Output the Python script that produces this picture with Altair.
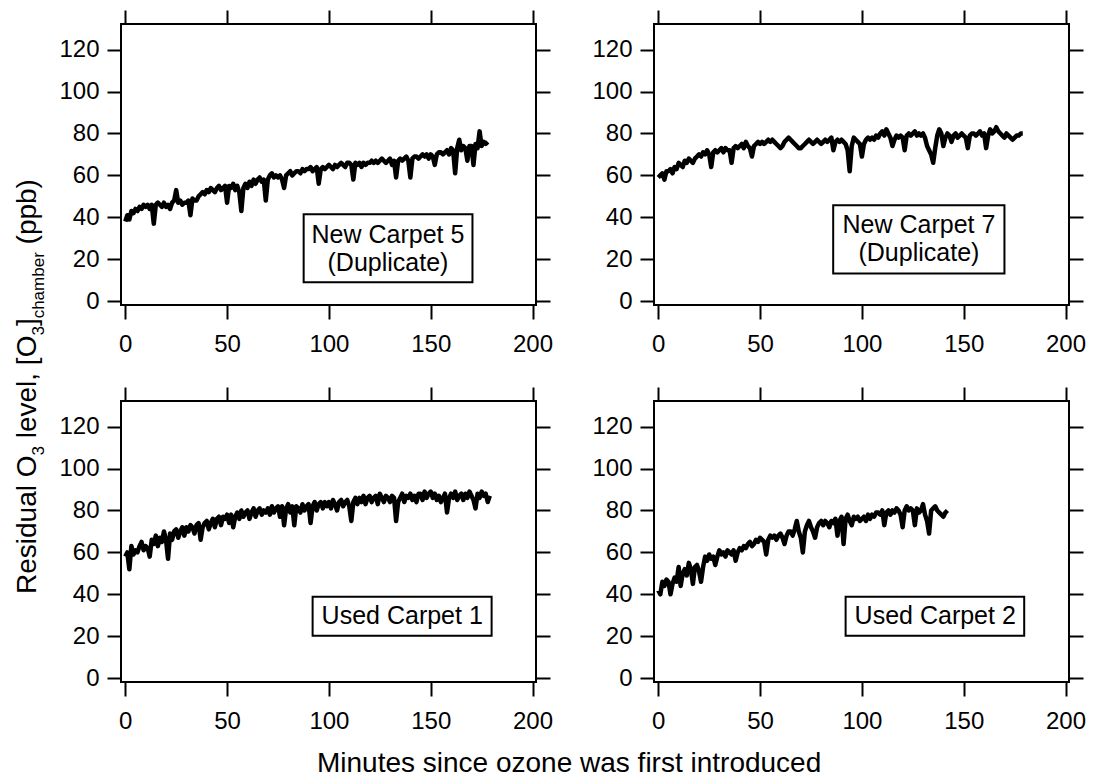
import altair as alt
import pandas as pd

FONT = "Liberation Sans"

# ---------------- data (ppb, one reading per minute) ----------------
new_carpet_5 = [
    38, 41, 39, 43, 42, 44, 43, 45, 44, 46,
    45, 46, 44, 46, 37, 46, 47, 46, 45, 47,
    45, 46, 44, 47, 48, 53, 47, 48, 46, 47,
    47, 48, 41, 49, 48, 48, 50, 51, 52, 51,
    53, 52, 54, 53, 52, 54, 55, 53, 54, 55,
    47, 55, 54, 56, 53, 55, 52, 43, 54, 56,
    54, 57, 55, 58, 56, 58, 59, 57, 58, 48,
    58, 60, 61, 59, 60, 59, 60, 58, 54, 60,
    61, 62, 60, 61, 62, 62, 61, 63, 62, 63,
    63, 64, 62, 63, 64, 56, 63, 64, 63, 64,
    65, 64, 63, 65, 64, 65, 66, 65, 64, 66,
    66, 65, 58, 66, 65, 66, 64, 66, 65, 66,
    66, 67, 66, 67, 66, 67, 68, 67, 66, 67,
    68, 65, 67, 59, 67, 68, 67, 68, 69, 67,
    59, 68, 69, 69, 68, 69, 70, 69, 70, 68,
    70, 69, 65, 70, 71, 71, 70, 71, 72, 70,
    73, 72, 61, 73, 77, 72, 74, 73, 67, 74,
    74, 65, 75, 73, 81, 74, 76, 75, 76,
]
new_carpet_7 = [
    59, 60, 61, 58, 62, 62, 63, 61, 64, 63,
    66, 65, 64, 67, 66, 68, 67, 66, 68, 69,
    70, 69, 71, 70, 72, 70, 64, 71, 72, 71,
    72, 73, 71, 73, 72, 72, 66, 73, 74, 73,
    74, 75, 73, 76, 74, 73, 69, 74, 75, 76,
    75, 76, 75, 76, 77, 76, 77, 76, 75, 74,
    73, 74, 76, 77, 78, 77, 76, 75, 74, 73,
    73, 74, 75, 76, 77, 76, 75, 76, 77, 76,
    75, 76, 77, 76, 77, 78, 72, 76, 77, 76,
    77, 76, 75, 72, 62, 74, 78, 77, 76, 75,
    69, 75, 77, 78, 77, 78, 77, 79, 78, 80,
    81, 79, 82, 80, 78, 74, 77, 79, 78, 79,
    78, 72, 79, 80, 79, 80, 81, 79, 80, 79,
    80, 78, 74, 72, 70, 66, 73, 79, 82, 80,
    74, 78, 80, 79, 76, 79, 80, 78, 79, 80,
    79, 78, 73, 79, 80, 80, 79, 80, 81, 79,
    80, 73, 79, 82, 80, 81, 83, 81, 80, 79,
    78, 80, 79, 78, 77, 78, 79, 79, 80, 80,
]
used_carpet_1 = [
    58, 60, 52, 63, 59, 61, 60, 63, 65, 61,
    63, 62, 58, 66, 64, 68, 63, 67, 65, 70,
    66, 57, 69, 66, 70, 71, 67, 70, 72, 68,
    72, 70, 73, 72, 69, 73, 74, 66, 72, 74,
    75, 71, 74, 76, 72, 76, 77, 73, 77, 76,
    78, 74, 78, 72, 77, 79, 76, 80, 77, 79,
    80, 76, 79, 81, 77, 80, 81, 78, 80, 79,
    81, 78, 82, 79, 81, 82, 77, 82, 73, 81,
    83, 79, 82, 73, 82, 81, 79, 83, 80, 82,
    83, 74, 82, 84, 80, 83, 84, 81, 84, 82,
    84, 81, 85, 83, 80, 84, 85, 82, 84, 85,
    82, 75, 84, 86, 83, 86, 84, 87, 83, 86,
    87, 84, 86, 87, 83, 88, 86, 84, 87, 86,
    84, 87, 86, 75, 84, 86, 88, 84, 87, 86,
    88, 85, 87, 84, 88, 88, 85, 89, 86, 88,
    89, 86, 88, 85, 87, 84, 86, 88, 79, 86,
    88, 86, 89, 85, 87, 88, 85, 88, 86, 89,
    87, 85, 81, 88, 86, 89, 87, 88, 84, 87,
]
used_carpet_2 = [
    42, 40, 46, 44, 47, 46, 40, 45, 48, 46,
    53, 44, 50, 52, 49, 55, 52, 45, 53, 54,
    51, 46, 53, 58, 56, 59, 57, 58, 54, 58,
    61, 59, 60, 58, 61, 60, 59, 61, 56, 60,
    62, 61, 63, 62, 64, 65, 63, 64, 66, 65,
    67, 66, 65, 59, 66, 68, 67, 68, 66, 68,
    69, 67, 64, 68, 70, 70, 68, 71, 75, 70,
    67, 60, 70, 73, 75, 72, 70, 67, 72, 74,
    75, 73, 75, 74, 72, 75, 74, 76, 68, 75,
    77, 64, 76, 78, 75, 73, 77, 76, 77, 75,
    76, 77, 75, 78, 76, 78, 77, 79, 79, 78,
    80, 73, 79, 80, 78, 80, 79, 81, 80, 78,
    72, 80, 82, 80, 81, 80, 73, 81, 79, 80,
    83, 78, 75, 69, 80, 81, 82, 80, 79, 78,
    77, 79, 80,
]

x_ticks = [0, 50, 100, 150, 200]
y_ticks = [0, 20, 40, 60, 80, 100, 120]

panel_labels = {
    "nc5": ["New Carpet 5", "(Duplicate)"],
    "nc7": ["New Carpet 7", "(Duplicate)"],
    "uc1": ["Used Carpet 1"],
    "uc2": ["Used Carpet 2"],
}

# ---------------- layout / style ----------------
W, H = 415, 281
X_DOMAIN = [-2.1, 201.7]
Y_DOMAIN = [-1.8, 132.2]

# label boxes in data units: (x1, x2, y1, y2), text centre x, text line y's
boxes = {
    "nc5": ((87.6, 170.5, 9.1, 41.5), 129, [31.5, 18.1]),
    "nc7": ((85.9, 170.0, 13.2, 45.8), 128, [36.2, 22.9]),
    "uc1": ((92.0, 179.9, 20.3, 38.9), 136, [29.8]),
    "uc2": ((92.0, 179.7, 20.3, 38.9), 136, [29.8]),
}

xs = alt.Scale(domain=X_DOMAIN, nice=False, zero=False)
ys = alt.Scale(domain=Y_DOMAIN, nice=False, zero=False)
common = dict(tickSize=14, tickWidth=2, tickColor="black", grid=False,
              domain=False, title=None)
ax_bottom = alt.Axis(orient="bottom", values=x_ticks, labelFontSize=24,
                     labelFont=FONT, labelColor="black", labelPadding=13,
                     **common)
ax_top = alt.Axis(orient="top", values=x_ticks, labels=False, **common)
ax_left = alt.Axis(orient="left", values=y_ticks, labelFontSize=24,
                   labelFont=FONT, labelColor="black", labelPadding=8,
                   **common)
ax_right = alt.Axis(orient="right", values=y_ticks, labels=False, **common)


def panel(values, key, extra=()):
    df = pd.DataFrame({"t": list(range(len(values))), "o3": values})
    line = alt.Chart(df).mark_line(
        color="black", strokeWidth=4.5, strokeJoin="round"
    ).encode(
        x=alt.X("t:Q", scale=xs, axis=ax_bottom),
        y=alt.Y("o3:Q", scale=ys, axis=ax_left),
    )
    (x1, x2, y1, y2), tx, tys = boxes[key]
    bdf = pd.DataFrame({"x1": [x1], "x2": [x2], "y1": [y1], "y2": [y2]})
    rect = alt.Chart(bdf).mark_rect(
        fill="white", stroke="black", strokeWidth=2
    ).encode(
        x=alt.X("x1:Q", scale=xs, axis=ax_top), x2="x2:Q",
        y=alt.Y("y1:Q", scale=ys, axis=ax_right), y2="y2:Q",
    )
    tdf = pd.DataFrame({"label": panel_labels[key], "x": [tx] * len(tys),
                        "y": tys})
    text = alt.Chart(tdf).mark_text(
        font=FONT, fontSize=25, color="black", baseline="middle",
        align="center"
    ).encode(
        x=alt.X("x:Q", scale=xs, axis=None),
        y=alt.Y("y:Q", scale=ys, axis=None),
        text="label:N",
    )
    return alt.layer(line, rect, text, *extra).resolve_axis(
        x="independent", y="independent"
    ).properties(width=W, height=H)


# ---- y-axis title with subscripts (built from text pieces) ----
AW = {"R": 722, "e": 556, "s": 500, "i": 222, "d": 556, "u": 556, "a": 556,
      "l": 222, " ": 278, "O": 778, "3": 556, "v": 500, ",": 278, "[": 278,
      "]": 278, "c": 500, "h": 556, "m": 833, "b": 556, "r": 333, "(": 333,
      "p": 556, ")": 333}


def tw(s, size):
    return sum(AW[c] for c in s) / 1000.0 * size


MAIN, SUB = 28, 17
ytitle_parts = [("Residual O", MAIN), ("3", SUB), (" level, [O", MAIN),
                ("3", SUB), ("]", MAIN), ("chamber", SUB), (" (ppb)", MAIN)]
ytitle_layers = []
pos = 570.0
for seg, size in ytitle_parts:
    lead = len(seg) - len(seg.lstrip(" "))
    pos -= tw(" " * lead, size)
    txt = seg.strip(" ")
    shift = 8 if size == SUB else 0
    ytitle_layers.append(
        alt.Chart(pd.DataFrame({"s": [txt]})).mark_text(
            angle=270, align="left", baseline="alphabetic", font=FONT,
            fontSize=size, color="black"
        ).encode(x=alt.value(-85.5 + shift), y=alt.value(pos), text="s:N")
    )
    pos -= tw(txt, size)

xtitle = alt.Chart(pd.DataFrame({"s": ["Minutes since ozone was first introduced"]})).mark_text(
    align="left", baseline="alphabetic", font=FONT, fontSize=28, color="black"
).encode(x=alt.value(196), y=alt.value(371), text="s:N")

tl = panel(new_carpet_5, "nc5", ytitle_layers)
tr = panel(new_carpet_7, "nc7")
bl = panel(used_carpet_1, "uc1", [xtitle])
br = panel(used_carpet_2, "uc2")

chart = alt.concat(
    tl, tr, bl, br, columns=2, bounds="flush",
    spacing={"row": 96, "column": 118},
).properties(
    padding={"left": 4, "top": 0, "right": 0, "bottom": 0}
).configure_view(stroke="black", strokeWidth=2)

chart.save("out.html", embed_options={"renderer": "svg", "actions": False})
